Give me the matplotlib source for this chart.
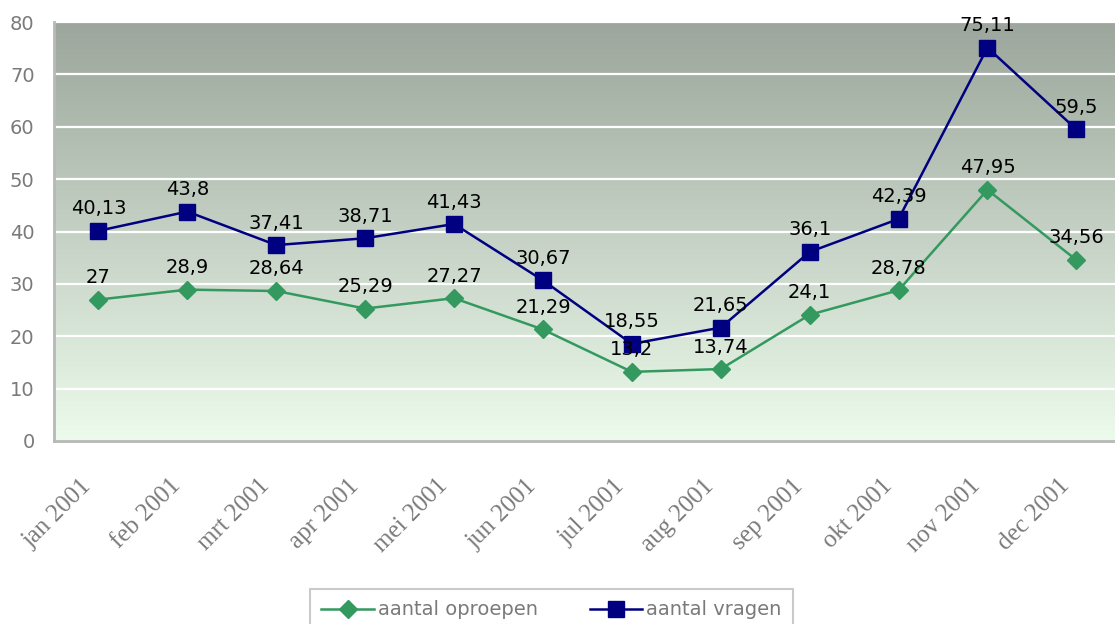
import numpy as np
import matplotlib
matplotlib.use("Agg")
import matplotlib.pyplot as plt
import matplotlib.transforms as mtransforms
from matplotlib.colors import LinearSegmentedColormap

# data
months = ["jan 2001", "feb 2001", "mrt 2001", "apr 2001", "mei 2001", "jun 2001",
          "jul 2001", "aug 2001", "sep 2001", "okt 2001", "nov 2001", "dec 2001"]
oproepen = [27, 28.9, 28.64, 25.29, 27.27, 21.29, 13.2, 13.74, 24.1, 28.78, 47.95, 34.56]
vragen = [40.13, 43.8, 37.41, 38.71, 41.43, 30.67, 18.55, 21.65, 36.1, 42.39, 75.11, 59.5]
yticks = [0, 10, 20, 30, 40, 50, 60, 70, 80]

green = "#33995f"
navy = "#000080"
grey_txt = "#7a7a7a"

W, H = 1115, 624
fig = plt.figure(figsize=(W / 100, H / 100), dpi=100)
left, right, top, bottom = 54, 1115, 22, 441
ax = fig.add_axes([left / W, (H - bottom) / H, (right - left) / W, (bottom - top) / H])

# gradient background
cmap = LinearSegmentedColormap.from_list("bg", ["#ecfbec", "#9ca69c"])
grad = np.linspace(0, 1, 256).reshape(-1, 1)
ax.imshow(grad, cmap=cmap, aspect="auto", extent=[0, 1, 0, 1], origin="lower",
          transform=ax.transAxes, zorder=0)

x = np.arange(len(months))
ax.plot(x, oproepen, color=green, lw=1.8, marker="D", markersize=9, zorder=3,
        label="aantal oproepen")
ax.plot(x, vragen, color=navy, lw=1.8, marker="s", markersize=11, zorder=3,
        label="aantal vragen")

def fmt(v):
    s = ("%.2f" % v).rstrip("0").rstrip(".")
    return s.replace(".", ",")

for series in (oproepen, vragen):
    for xi, v in zip(x, series):
        ax.annotate(fmt(v), (xi, v), xytext=(0, 9), textcoords="offset points",
                    ha="center", va="bottom", fontsize=14, color="black", zorder=4)

ax.set_ylim(0, 80)
ax.set_xlim(-0.5, (right - left) / 88.9 - 0.5)
ax.set_yticks(yticks)
for yv in yticks[1:]:
    ax.axhline(yv, color="white", lw=1.6, zorder=1)

ax.tick_params(axis="y", length=0, pad=14, labelsize=14, labelcolor=grey_txt)
ax.tick_params(axis="x", length=0, pad=30, labelsize=18, labelcolor=grey_txt)
ax.set_xticks(x)
ax.set_xticklabels(months, rotation=45, ha="right", va="center",
                   rotation_mode="anchor", family="Liberation Serif")
offset = mtransforms.ScaledTranslation(-10 / 100, 0, fig.dpi_scale_trans)
for lbl in ax.get_xticklabels():
    lbl.set_transform(lbl.get_transform() + offset)

for s in ["top", "right"]:
    ax.spines[s].set_visible(False)
for s in ["left", "bottom"]:
    ax.spines[s].set_color("#b8b8b8")
    ax.spines[s].set_linewidth(2)
    ax.spines[s].set_zorder(2)

leg = fig.legend(loc="upper left", bbox_to_anchor=(300 / W, 1 - 579 / H, 503 / W, 0),
                 ncol=2, mode="expand", frameon=True, fancybox=False, fontsize=14,
                 handlelength=2.7, handletextpad=0.2, borderpad=0.6, columnspacing=2.0)
leg.get_frame().set_edgecolor("#bdbdbd")
leg.get_frame().set_linewidth(1.5)
for t in leg.get_texts():
    t.set_color(grey_txt)

fig.savefig("out.png", dpi=100)
